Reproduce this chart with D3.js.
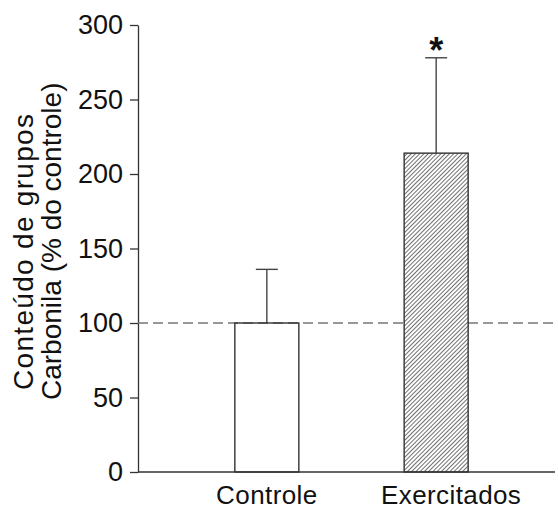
<!DOCTYPE html>
<html>
<head>
<meta charset="utf-8">
<script src="https://cdn.jsdelivr.net/npm/d3@7"></script>
<style>
  body { margin: 0; background: #fff; }
  svg { display: block; font-family: "Liberation Sans", Arial, sans-serif; }
</style>
</head>
<body>
<div id="chart"></div>
<script>
const categories = ["Controle", "Exercitados"];
const means = [100, 214];
const errors = [36, 64];
const yTicks = [0, 50, 100, 150, 200, 250, 300];
const reference = 100;

const width = 558, height = 511;
const axisLeft = 138, axisRight = 555, axisBottom = 472, axisTop = 25;

const svg = d3.select("#chart").append("svg")
    .attr("width", width)
    .attr("height", height);

// diagonal hatch for the exercised group
const hs = 3.0;
const pat = svg.append("defs").append("pattern")
    .attr("id", "hatch")
    .attr("patternUnits", "userSpaceOnUse")
    .attr("width", hs)
    .attr("height", hs)
    .attr("patternTransform", "rotate(45)");
pat.append("rect").attr("width", hs).attr("height", hs).attr("fill", "#fff");
pat.append("line")
    .attr("x1", 0).attr("y1", 0).attr("x2", 0).attr("y2", hs)
    .attr("stroke", "#222").attr("stroke-width", 1.3);

const x = d3.scaleBand()
    .domain(categories)
    .range([axisLeft, 565])
    .paddingInner(0.622)
    .paddingOuter(0.572);

const y = d3.scaleLinear()
    .domain([0, 300])
    .range([axisBottom, axisTop]);

// y axis
const gy = svg.append("g")
    .attr("transform", `translate(${axisLeft},0)`)
    .call(d3.axisLeft(y).tickValues(yTicks).tickSize(8).tickPadding(7).tickSizeOuter(0));
gy.select(".domain").attr("stroke", "#333").attr("stroke-width", 1.3);
gy.selectAll(".tick line").attr("stroke", "#333").attr("stroke-width", 1.3);
gy.selectAll(".tick text").attr("fill", "#111").style("font-size", "27px");

// reference line at 100 %
svg.append("line")
    .attr("x1", axisLeft).attr("x2", axisRight)
    .attr("y1", y(reference)).attr("y2", y(reference))
    .attr("stroke", "#777")
    .attr("stroke-width", 1.3)
    .attr("stroke-dasharray", "10,5");

// error bars (drawn under bars)
const eb = svg.append("g").attr("stroke", "#444").attr("stroke-width", 1.4);
categories.forEach((c, i) => {
    const cx = x(c) + x.bandwidth() / 2;
    eb.append("line")
        .attr("x1", cx).attr("x2", cx)
        .attr("y1", y(means[i])).attr("y2", y(means[i] + errors[i]));
    eb.append("line")
        .attr("x1", cx - 11).attr("x2", cx + 11)
        .attr("y1", y(means[i] + errors[i])).attr("y2", y(means[i] + errors[i]));
});

// bars
svg.append("g")
    .selectAll("rect")
    .data(categories)
    .enter().append("rect")
        .attr("x", d => x(d))
        .attr("y", (d, i) => y(means[i]))
        .attr("width", x.bandwidth())
        .attr("height", (d, i) => y(0) - y(means[i]))
        .attr("fill", (d, i) => i === 1 ? "url(#hatch)" : "none")
        .attr("stroke", "#333")
        .attr("stroke-width", 1.4);

// x axis line
svg.append("line")
    .attr("x1", axisLeft).attr("x2", axisRight)
    .attr("y1", axisBottom).attr("y2", axisBottom)
    .attr("stroke", "#333").attr("stroke-width", 1.3);

const gx = svg.append("g")
    .attr("transform", `translate(0,${axisBottom})`)
    .call(d3.axisBottom(x).tickSize(0).tickPadding(14));
gx.select(".domain").remove();
gx.selectAll(".tick text")
    .attr("fill", "#111")
    .attr("dx", (d, i) => i === 1 ? 15 : 0)
    .attr("letter-spacing", "0.4px")
    .style("font-size", "26px");

// significance marker
svg.append("text")
    .attr("x", x("Exercitados") + x.bandwidth() / 2)
    .attr("y", y(means[1] + errors[1]) + 5)
    .attr("text-anchor", "middle")
    .style("font-size", "36px")
    .style("font-weight", "bold")
    .attr("fill", "#111")
    .text("*");

// y axis title
const title = svg.append("text")
    .attr("transform", "rotate(-90)")
    .attr("text-anchor", "start")
    .attr("fill", "#111")
    .style("font-size", "28px");
title.append("tspan").attr("x", -390).attr("y", 33)
    .attr("textLength", 276).attr("lengthAdjust", "spacing")
    .text("Conteúdo de grupos");
title.append("tspan").attr("x", -400).attr("y", 61)
    .text("Carbonila (% do controle)");
</script>
</body>
</html>
